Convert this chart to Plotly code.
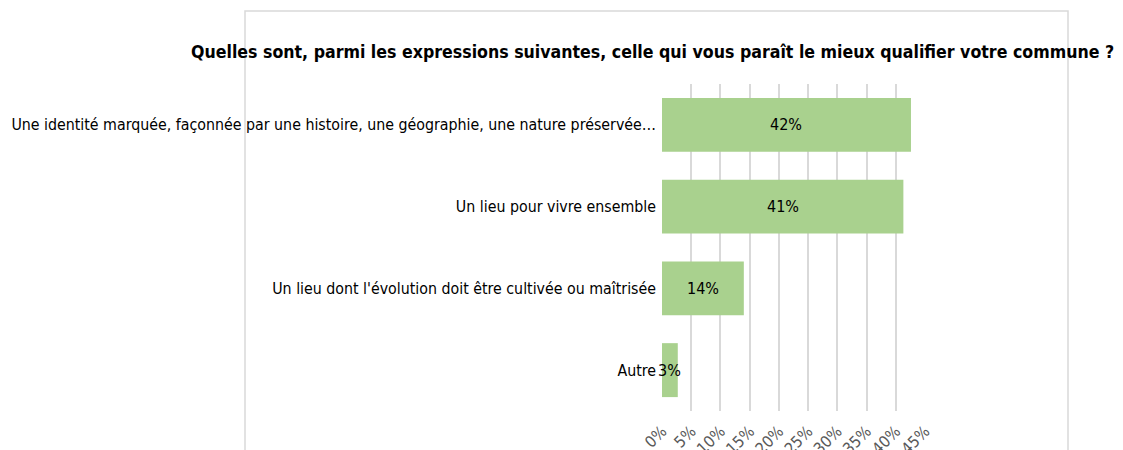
import plotly.graph_objects as go

categories = [
    "Une identité marquée, façonnée par une histoire, une géographie, une nature préservée…",
    "Un lieu pour vivre ensemble",
    "Un lieu dont l'évolution doit être cultivée ou maîtrisée",
    "Autre",
]
values = [0.426, 0.413, 0.14, 0.027]
labels = ["42%", "41%", "14%", "3%"]
tick_vals = [0, 0.05, 0.10, 0.15, 0.20, 0.25, 0.30, 0.35, 0.40, 0.45]
tick_text = ["0%", "5%", "10%", "15%", "20%", "25%", "30%", "35%", "40%", "45%"]
title_text = "Quelles sont, parmi les expressions suivantes, celle qui vous paraît le mieux qualifier votre commune ?"

FONT = "Liberation Sans Narrow, DejaVu Sans Condensed, Arial Narrow, sans-serif"
W, H = 1123, 450
OFF = 8  # default page body margin
# target pixel positions in the screenshot
PX_L, PX_R, PX_T, PX_B = 662, 925, 84, 411
L = PX_L - OFF
R = W - (PX_R - OFF)
T = PX_T - OFF
B = H - (PX_B - OFF)
PW = PX_R - PX_L
PH = PX_B - PX_T


def px_x(x):
    return (x - PX_L) / PW


def px_y(y):
    return (PX_B - y) / PH


fig = go.Figure(go.Bar(
    x=values, y=categories, orientation="h",
    marker=dict(color="#A9D18E", line=dict(width=0)),
    width=0.66, hoverinfo="skip",
))

for v, c, t in zip(values, categories, labels):
    fig.add_annotation(x=v / 2, y=c, text=t, showarrow=False,
                       font=dict(family=FONT, size=16, color="#000000"),
                       xref="x", yref="y")

fig.add_annotation(text="<b>" + title_text + "</b>", x=px_x(652), y=px_y(52),
                   xref="paper", yref="paper", showarrow=False,
                   xanchor="center", yanchor="middle",
                   font=dict(family=FONT, size=17.6, color="#000000"))

# frame
fig.add_shape(type="rect", xref="paper", yref="paper",
              x0=px_x(245), x1=px_x(1068), y0=-1, y1=px_y(11),
              line=dict(color="#D9D9D9", width=1.5), fillcolor="rgba(0,0,0,0)",
              layer="below")

fig.update_layout(
    width=W, height=H,
    margin=dict(l=L, r=R, t=T, b=B, autoexpand=False),
    paper_bgcolor="white", plot_bgcolor="white",
    showlegend=False,
    font=dict(family=FONT, size=16, color="#000000"),
    xaxis=dict(range=[0, 0.45], tickvals=tick_vals, ticktext=tick_text,
               tickangle=-45, showgrid=True, gridcolor="#D9D9D9", gridwidth=1.5,
               zeroline=False, showline=False, ticks="", automargin=False,
               ticklabelstandoff=7,
               tickfont=dict(family=FONT, size=16, color="#595959")),
    yaxis=dict(categoryorder="array", categoryarray=categories[::-1],
               showgrid=False, zeroline=False, showline=False, ticks="",
               automargin=False, ticklabelstandoff=5,
               tickfont=dict(family=FONT, size=15.8, color="#000000")),
)

fig.write_html("out.html")
